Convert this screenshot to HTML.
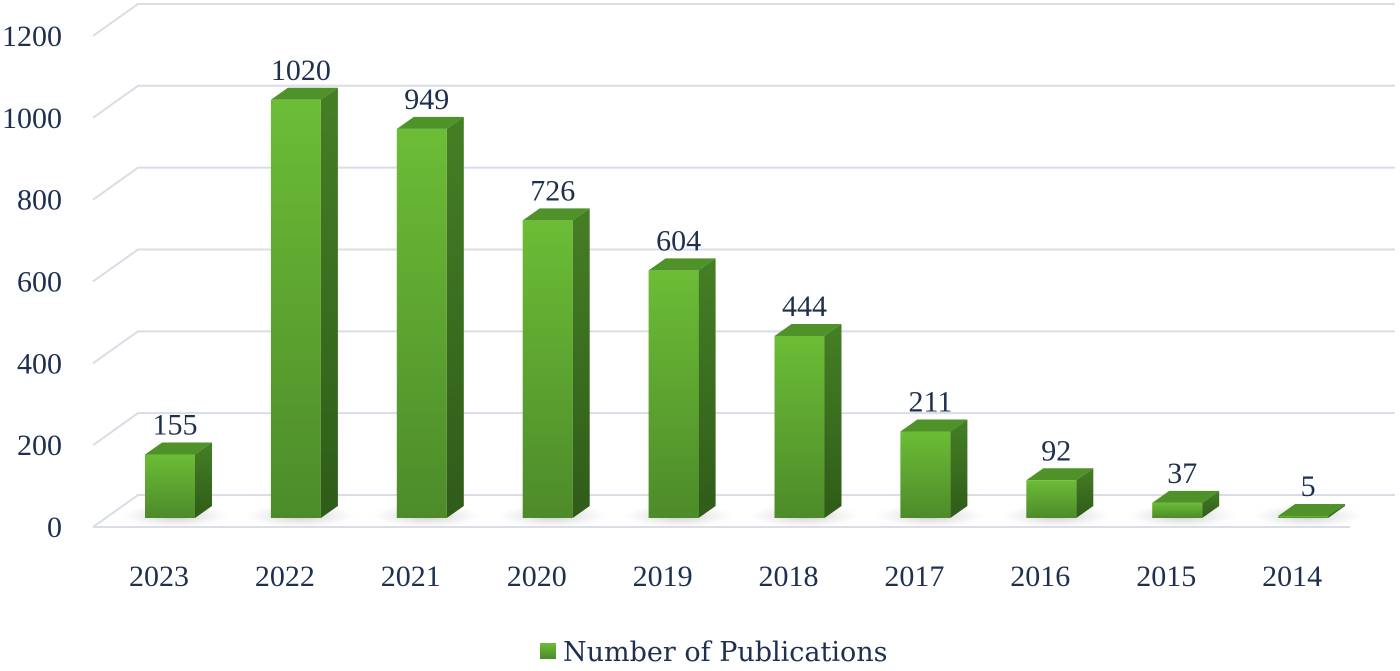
<!DOCTYPE html>
<html><head><meta charset="utf-8"><style>
body{margin:0;background:#fff;}
svg text{font-family:"Liberation Serif",serif;fill:#1e2f4f;}
</style></head><body>
<svg id="chart" width="1400" height="666" viewBox="0 0 1400 666" xmlns="http://www.w3.org/2000/svg">
<defs>
<linearGradient id="gf" x1="0" y1="0" x2="0" y2="1"><stop offset="0" stop-color="#6cbd36"/><stop offset="1" stop-color="#4d8b2a"/></linearGradient>
<linearGradient id="gs" x1="0" y1="0" x2="0" y2="1"><stop offset="0" stop-color="#457f25"/><stop offset="1" stop-color="#2f5c19"/></linearGradient>
<radialGradient id="sh" cx="0.5" cy="0.5" r="0.5"><stop offset="0" stop-color="#bbb" stop-opacity="0.8"/><stop offset="1" stop-color="#ddd" stop-opacity="0"/></radialGradient>
</defs>
<g id="grid"></g><g id="bars"></g><g id="labels"></g>
<g>
<rect x="540" y="643" width="16" height="16" fill="url(#gf)"/>
<text x="563" y="661" font-size="27" style="font-family:'DejaVu Serif',serif">Number of Publications</text>
</g>
</svg>
<script>
const categories=["2023","2022","2021","2020","2019","2018","2017","2016","2015","2014"];
const values=[155,1020,949,726,604,444,211,92,37,5];
const yTicks=[0,200,400,600,800,1000,1200];
const NS="http://www.w3.org/2000/svg";
function mk(t,a,p){const e=document.createElementNS(NS,t);for(const k in a)e.setAttribute(k,a[k]);p.appendChild(e);return e;}
const gridY=v=>527-v*0.4092;
const barY=v=>518-v*0.41;
const xPos=i=>145+i*125.9;
const grid=document.getElementById('grid'),bars=document.getElementById('bars'),labels=document.getElementById('labels');
yTicks.forEach(v=>{
  const fy=gridY(v);
  const p=mk('polyline',{points:`93,${fy} 138,${fy-32} 1395,${fy-32}`,fill:'none',stroke:'#d8dde6','stroke-width':2},grid);
  
  
  const t=mk('text',{x:62,y:fy+10,'font-size':30,'text-anchor':'end'},labels);
  t.textContent=v;
  
  
});
const floor=mk('line',{x1:93,y1:527,x2:1350,y2:527,stroke:'#d8dde6','stroke-width':2},grid);


categories.forEach((c,i)=>{
  const x=xPos(i),w=50,dx=17,dy=12,b=barY(0),t=barY(values[i]);
  const s=mk('ellipse',{cx:x+30,cy:b-2,rx:55,ry:12,fill:'url(#sh)'},bars);
  
  
  const g=mk('g',{},bars);
  
  
  mk('polygon',{points:`${x+w},${t} ${x+w+dx},${t-dy} ${x+w+dx},${b-dy} ${x+w},${b}`,fill:'url(#gs)'},g);
  mk('polygon',{points:`${x},${t} ${x+dx},${t-dy} ${x+w+dx},${t-dy} ${x+w},${t}`,fill:'#4f9229'},g);
  mk('rect',{x:x,y:t,width:w,height:Math.max(b-t,0.5),fill:'url(#gf)'},g);
  const vl=mk('text',{x:x+30,y:t-20,'font-size':30,'text-anchor':'middle'},labels);
  vl.textContent=values[i];
  
  
  const xl=mk('text',{x:x+14,y:586,'font-size':30,'text-anchor':'middle'},labels);
  xl.textContent=c;
  
  
});
</script>
</body></html>
